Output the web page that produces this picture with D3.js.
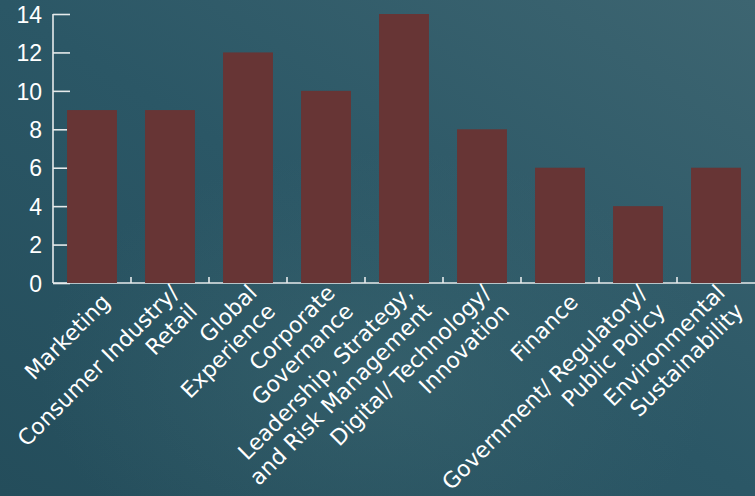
<!DOCTYPE html>
<html>
<head>
<meta charset="utf-8">
<script src="https://cdn.jsdelivr.net/npm/d3@7"></script>
<style>
  html, body { margin: 0; padding: 0; background: #2a5462; }
  svg { display: block; font-family: "DejaVu Sans", sans-serif; }
</style>
</head>
<body>
<div id="chart"></div>
<script>
// expertise areas, one entry per bar (lines split the tick label)
const categories = [
    ["Marketing"],
    ["Consumer Industry/", "Retail"],
    ["Global", "Experience"],
    ["Corporate", "Governance"],
    ["Leadership, Strategy,", "and Risk Management"],
    ["Digital/ Technology/", "Innovation"],
    ["Finance"],
    ["Government/ Regulatory/", "Public Policy"],
    ["Environmental", "Sustainability"]
];
const counts = [9, 9, 12, 10, 14, 8, 6, 4, 6];
const yTicks = [0, 2, 4, 6, 8, 10, 12, 14];

const width = 755, height = 496;
const margin = {top: 14, right: 0, bottom: 213, left: 53};
const innerW = width - margin.left - margin.right;
const innerH = height - margin.top - margin.bottom;
const lineH = 26;

const svg = d3.select("#chart")
    .append("svg")
    .attr("width", width)
    .attr("height", height);

// background wash
const defs = svg.append("defs");
const bg = defs.append("linearGradient")
    .attr("id", "bg")
    .attr("x1", "0").attr("y1", "1").attr("x2", "1").attr("y2", "0");
bg.append("stop").attr("offset", "0").attr("stop-color", "#244d5b");
bg.append("stop").attr("offset", "0.5").attr("stop-color", "#2b5766");
bg.append("stop").attr("offset", "1").attr("stop-color", "#3d6571");
const glow = defs.append("radialGradient")
    .attr("id", "glow")
    .attr("cx", "0.5").attr("cy", "0.75").attr("r", "0.45");
glow.append("stop").attr("offset", "0").attr("stop-color", "#4a7378").attr("stop-opacity", 0.3);
glow.append("stop").attr("offset", "1").attr("stop-color", "#4a7378").attr("stop-opacity", 0);

svg.append("rect").attr("width", width).attr("height", height).attr("fill", "url(#bg)");
svg.append("rect").attr("width", width).attr("height", height).attr("fill", "url(#glow)");

const g = svg.append("g")
    .attr("transform", "translate(" + margin.left + "," + margin.top + ")");

const keys = categories.map(c => c.join(" "));

let x = d3.scaleBand(keys, [0, innerW]).paddingInner(0.36).paddingOuter(0.18);
let y = d3.scaleLinear([0, 14], [innerH, 0]);

// y axis: ticks point inward, labels on the left
const yAxis = g.append("g")
    .call(d3.axisRight(y).tickValues(yTicks).tickSize(17).tickFormat(d3.format("d")));
yAxis.select(".domain").attr("stroke", "#e6eaeb").attr("stroke-width", 1.6).attr("d", "M0," + y(14) + "V" + innerH);
yAxis.selectAll(".tick line").attr("stroke", "#e6eaeb").attr("stroke-width", 1.6);
yAxis.selectAll(".tick text")
    .attr("fill", "#ffffff")
    .attr("text-anchor", "end")
    .attr("x", -11)
    .attr("dy", "0.36em")
    .style("font-family", "'Liberation Sans', Arial, sans-serif")
    .style("font-size", "23px");

// x axis: small upward ticks at the band boundaries
const step = x.step();
const bounds = d3.range(1, keys.length).map(i => x(keys[i]) - (step - x.bandwidth()) / 2);
const xAxis = g.append("g").attr("transform", "translate(0," + innerH + ")");
xAxis.append("path")
    .attr("d", "M0,0H" + innerW)
    .attr("stroke", "#e6eaeb")
    .attr("stroke-width", 1.6);
xAxis.selectAll("line.bt")
    .data(bounds)
    .join("line")
      .attr("class", "bt")
      .attr("x1", d => d).attr("x2", d => d)
      .attr("y1", 0).attr("y2", -6)
      .attr("stroke", "#e6eaeb")
      .attr("stroke-width", 1.6);

// bars sit on top of the inward ticks
g.append("g")
    .selectAll("rect")
    .data(counts)
    .join("rect")
      .attr("x", (d, i) => x(keys[i]))
      .attr("y", d => y(d))
      .attr("width", x.bandwidth())
      .attr("height", d => innerH - y(d))
      .attr("fill", "#673535");

// rotated category labels, multi-line blocks centred on the anchor
const labels = xAxis.selectAll("text.cat")
    .data(categories)
    .join("text")
      .attr("class", "cat")
      .attr("fill", "#ffffff")
      .attr("text-anchor", "end")
      .style("font-size", "22px")
      .attr("transform", (d, i) => "translate(" + (x(keys[i]) + x.bandwidth() / 2 + 14) + ",15) rotate(-45)");
labels.each(function(d) {
    const n = d.length;
    d3.select(this).selectAll("tspan")
        .data(d)
        .join("tspan")
          .attr("x", 0)
          .attr("y", (t, j) => (j - (n - 1) / 2) * lineH)
          .attr("dy", "0.35em")
          .text(t => t);
});
</script>
</body>
</html>
